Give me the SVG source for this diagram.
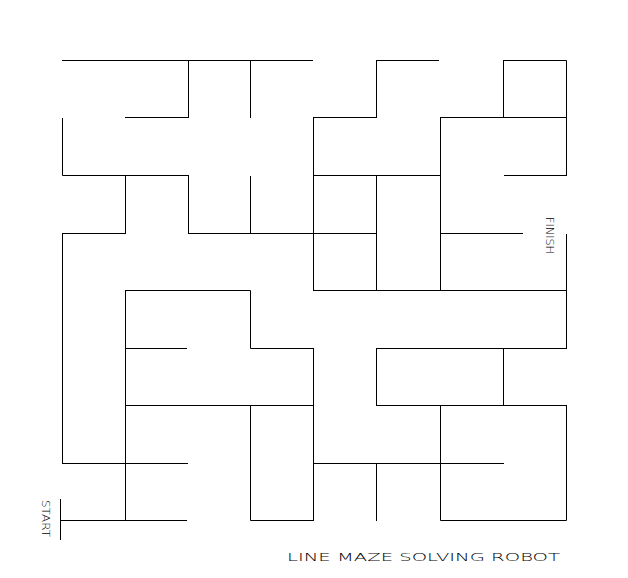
<svg xmlns="http://www.w3.org/2000/svg" width="628" height="578" viewBox="0 0 628 578">
<style>
.wall{fill:none;stroke:#000;stroke-width:1;stroke-linecap:square}
.lbl{font-family:"DejaVu Sans","Liberation Sans",sans-serif;font-weight:200;font-size:11px;fill:#000}
</style>
<rect width="628" height="578" fill="#fff"/>
<g id="maze">
<path class="wall" d="
M62.5 60.5H312.5
M188.5 60.5V117.5 M125.5 117.5H188.5
M250.5 60.5V117.5
M62.5 118.5V175.5H188.5
M125.5 175.5V233.5 M62.5 233.5H125.5
M188.5 175.5V233.5 M250.5 176.5V233.5
M188.5 233.5H376.5
M313.5 117.5V290.5 M313.5 117.5H376.5 M376.5 60.5V117.5 M376.5 60.5H438.5
M313.5 175.5H440.5 M376.5 175.5V290.5
M440.5 117.5V290.5 M440.5 117.5H566.5
M503.5 60.5V117.5 M503.5 60.5H566.5V175.5 M504.5 175.5H566.5
M440.5 233.5H522.5
M566.5 234.5V348.5 M313.5 290.5H566.5
M62.5 233.5V463.5
M125.5 290.5H250.5V348.5H313.5 M125.5 290.5V520.5
M125.5 348.5H186.5
M313.5 348.5V520.5 M125.5 405.5H313.5
M250.5 405.5V520.5H313.5
M62.5 463.5H187.5
M60.5 520.5H186.5 M60.5 499.5V539.5
M376.5 348.5H566.5 M376.5 348.5V405.5 M503.5 348.5V405.5
M376.5 405.5H566.5
M440.5 405.5V520.5H566.5V405.5
M313.5 463.5H503.5 M376.5 463.5V520.5
"/>
</g>
<g id="labels">
<text class="lbl" transform="translate(546,217) rotate(90)" textLength="37" lengthAdjust="spacingAndGlyphs">FINISH</text>
<text class="lbl" transform="translate(42,500) rotate(90)" textLength="37" lengthAdjust="spacingAndGlyphs">START</text>
<text class="lbl" x="287" y="561" textLength="273" lengthAdjust="spacingAndGlyphs">LINE MAZE SOLVING ROBOT</text>
</g>
</svg>
